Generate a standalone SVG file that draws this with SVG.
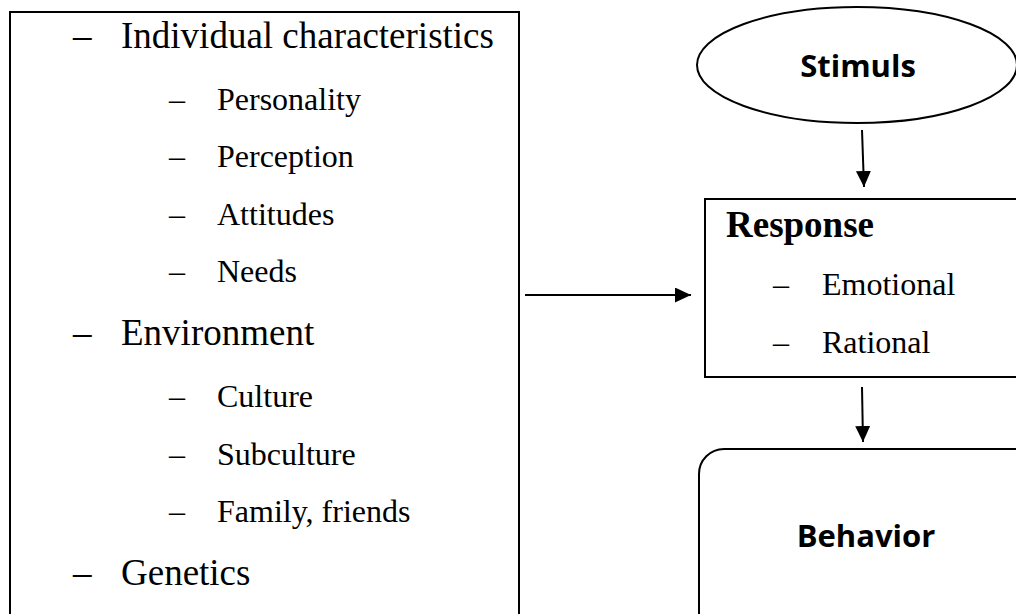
<svg xmlns="http://www.w3.org/2000/svg" width="1016" height="614" viewBox="0 0 1016 614">
<style>
.box{fill:none;stroke:#000;stroke-width:2}
.conn{fill:none;stroke:#000;stroke-width:2}
.main{font-family:"Liberation Serif","Times New Roman",serif;font-size:37px;fill:#000}
.sub{font-family:"Liberation Serif","Times New Roman",serif;font-size:32px;fill:#000}
.hdr{font-family:"Liberation Serif","Times New Roman",serif;font-size:37px;font-weight:bold;fill:#000}
.cal{font-family:"Open Sans","Liberation Sans",sans-serif;font-size:31px;font-weight:bold;fill:#000;text-anchor:middle}
</style>
<defs>
<marker id="ahv" markerWidth="16" markerHeight="16" refX="16" refY="7.5" orient="auto" markerUnits="userSpaceOnUse">
<path d="M0,0 L16,7.5 L0,15 Z" fill="#000"/>
</marker>
</defs>
<rect width="1016" height="614" fill="#fff"/>
<g id="factors">
<rect class="box" x="10" y="12" width="509" height="620"/>
<text class="main" x="73" y="48">–</text><text class="main" x="121" y="48">Individual characteristics</text>
<text class="sub" x="169" y="110">–</text><text class="sub" x="217" y="110">Personality</text>
<text class="sub" x="169" y="167">–</text><text class="sub" x="217" y="167">Perception</text>
<text class="sub" x="169" y="225">–</text><text class="sub" x="217" y="225">Attitudes</text>
<text class="sub" x="169" y="282">–</text><text class="sub" x="217" y="282">Needs</text>
<text class="main" x="73" y="345">–</text><text class="main" x="121" y="345">Environment</text>
<text class="sub" x="169" y="407">–</text><text class="sub" x="217" y="407">Culture</text>
<text class="sub" x="169" y="465">–</text><text class="sub" x="217" y="465">Subculture</text>
<text class="sub" x="169" y="522">–</text><text class="sub" x="217" y="522">Family, friends</text>
<text class="main" x="73" y="585">–</text><text class="main" x="121" y="585">Genetics</text>
</g>
<g id="stimulus">
<ellipse class="box" cx="857" cy="65" rx="160" ry="58" stroke-width="1.5"/>
<text class="cal" x="858" y="77">Stimuls</text>
</g>
<g id="response">
<rect class="box" x="705" y="199" width="320" height="178"/>
<text class="hdr" x="726" y="237">Response</text>
<text class="sub" x="773" y="295">–</text><text class="sub" x="822" y="295">Emotional</text>
<text class="sub" x="773" y="353">–</text><text class="sub" x="822" y="353">Rational</text>
</g>
<g id="behavior">
<rect class="box" x="699" y="449" width="340" height="200" rx="25" ry="25"/>
<text class="cal" x="866" y="547">Behavior</text>
</g>
<g id="connectors">
<line class="conn" x1="862" y1="130" x2="864" y2="187" marker-end="url(#ahv)"/>
<line class="conn" x1="862" y1="387" x2="863" y2="442" marker-end="url(#ahv)"/>
<line class="conn" x1="525" y1="295" x2="691" y2="295" marker-end="url(#ahv)"/>
</g>
</svg>
